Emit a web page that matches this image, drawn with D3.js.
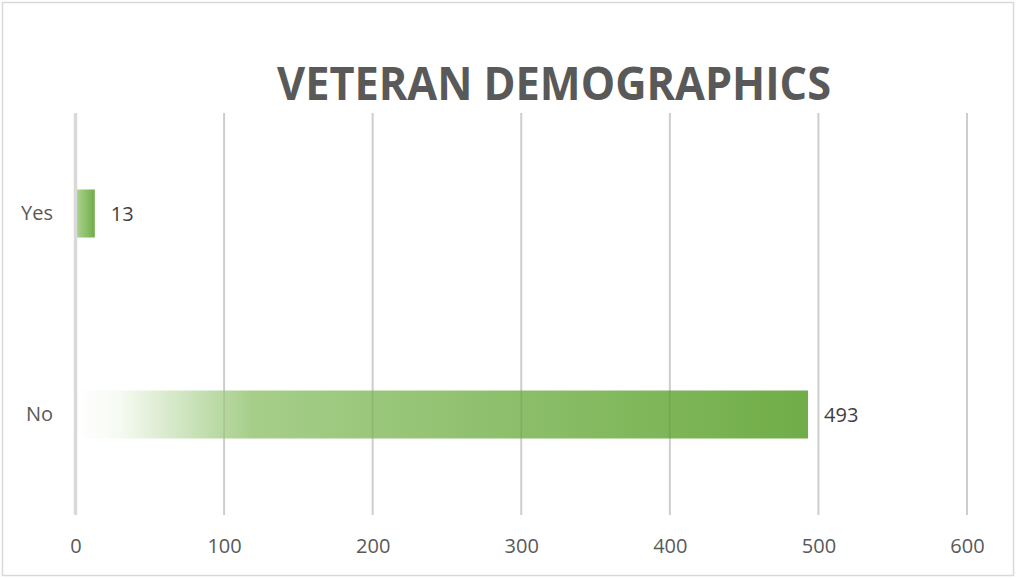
<!DOCTYPE html>
<html>
<head>
<meta charset="utf-8">
<script src="https://cdn.jsdelivr.net/npm/d3@7"></script>
<style>
  html, body { margin: 0; padding: 0; background: #fff; }
  svg { display: block; }
</style>
</head>
<body>
<svg id="chart" width="1017" height="578"></svg>
<script>
// Veteran status counts
const categories = ["Yes", "No"];
const values = [13, 493];
const tickValues = [0, 100, 200, 300, 400, 500, 600];
const chartTitle = "VETERAN DEMOGRAPHICS";

const W = 1017, H = 578;
const svg = d3.select("#chart");
const font = "'Open Sans', 'DejaVu Sans', sans-serif";

// chart area border
svg.append("rect")
  .attr("x", 2.5).attr("y", 2.5)
  .attr("width", 1011).attr("height", 573)
  .attr("fill", "#fff")
  .attr("stroke", "#d9d9d9").attr("stroke-width", 1.5);

const x = d3.scaleLinear().domain([0, 600]).range([75.5, 967]);
const y = d3.scaleBand().domain(categories).range([113, 515]).padding(0);
const barH = 48;
const gridTicks = tickValues.filter(t => t !== 0);

// per-bar gradient fills
const defs = svg.append("defs");
const gradStops = [
  [{ o: 0, c: "#aed593" }, { o: 1, c: "#70ad47" }],
  [{ o: 0, c: "#ffffff" }, { o: 0.06, c: "#f6faf3" }, { o: 0.24, c: "#a6ce8a" }, { o: 1, c: "#70ad47" }]
];
categories.forEach((c, i) => {
  const g = defs.append("linearGradient")
    .attr("id", "grad" + i)
    .attr("x1", "0%").attr("x2", "100%").attr("y1", "0%").attr("y2", "0%");
  gradStops[i].forEach(s => g.append("stop").attr("offset", s.o).attr("stop-color", s.c));
});

// vertical gridlines
svg.append("g").selectAll("line")
  .data(gridTicks)
  .join("line")
  .attr("x1", d => x(d)).attr("x2", d => x(d))
  .attr("y1", 113).attr("y2", 515)
  .attr("stroke", "#cdcdcd")
  .attr("stroke-width", 2);

// bars
const barTop = d => y(d) + y.bandwidth() / 2 - barH / 2;
svg.append("g").selectAll("rect")
  .data(categories)
  .join("rect")
  .attr("x", x(0))
  .attr("y", barTop)
  .attr("width", (d, i) => x(values[i]) - x(0))
  .attr("height", barH)
  .attr("fill", (d, i) => `url(#grad${i})`);

// faint gridline show-through across the bars
categories.forEach((c, i) => {
  svg.append("g").selectAll("line")
    .data(gridTicks.filter(t => t < values[i]))
    .join("line")
    .attr("x1", d => x(d)).attr("x2", d => x(d))
    .attr("y1", barTop(c)).attr("y2", barTop(c) + barH)
    .attr("stroke", "rgba(0,0,0,0.07)")
    .attr("stroke-width", 2);
});

// zero axis line
svg.append("line")
  .attr("x1", x(0)).attr("x2", x(0))
  .attr("y1", 113).attr("y2", 515)
  .attr("stroke", "#d9d9d9").attr("stroke-width", 3.5);

// x axis tick labels
const xAxis = d3.axisBottom(x).tickValues(tickValues).tickSize(0).tickPadding(0);
const gx = svg.append("g").attr("transform", "translate(0,538)").call(xAxis);
gx.select(".domain").remove();
gx.selectAll("text")
  .attr("dy", "0.75em")
  .attr("font-family", font).attr("font-size", 20)
  .attr("fill", "#595959");

// category labels
const yAxis = d3.axisLeft(y).tickSize(0).tickPadding(0);
const gy = svg.append("g").attr("transform", "translate(53,0)").call(yAxis);
gy.select(".domain").remove();
gy.selectAll("text")
  .attr("font-family", font).attr("font-size", 20)
  .attr("fill", "#595959");

// value labels
svg.append("g").selectAll("text")
  .data(categories)
  .join("text")
  .attr("x", (d, i) => x(values[i]) + 16)
  .attr("y", d => y(d) + y.bandwidth() / 2)
  .attr("dy", "0.35em")
  .attr("font-family", font).attr("font-size", 20)
  .attr("fill", "#404040")
  .text((d, i) => values[i]);

// title
svg.append("text")
  .attr("x", 277).attr("y", 100)
  .attr("font-family", font).attr("font-size", 46).attr("font-weight", 700)
  .attr("fill", "#595959")
  .attr("textLength", 554).attr("lengthAdjust", "spacingAndGlyphs")
  .text(chartTitle);
</script>
</body>
</html>
